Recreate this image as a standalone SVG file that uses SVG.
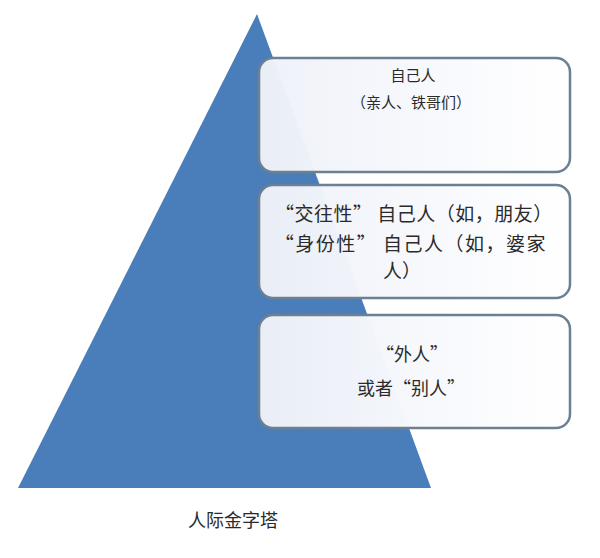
<svg xmlns="http://www.w3.org/2000/svg" width="600" height="558" viewBox="0 0 600 558">
<defs>
<linearGradient id="boxfill" x1="0" y1="0" x2="1" y2="0">
<stop offset="0" stop-color="#eef1f8" stop-opacity="0.97"/>
<stop offset="0.5" stop-color="#f6f8fc" stop-opacity="0.99"/>
<stop offset="1" stop-color="#ffffff" stop-opacity="1"/>
</linearGradient>
<style>
.box{fill:url(#boxfill);stroke:#6d7f92;stroke-width:2.5}
.t{font-family:"Noto Sans CJK SC","Liberation Sans",sans-serif;fill:#2a2a2a;text-anchor:middle}
</style>
</defs>
<rect width="600" height="558" fill="#ffffff"/>
<g id="pyramid">
<polygon points="257,14 431,488 18,488" fill="#4a7ebb"/>
</g>
<g id="box1">
<rect class="box" x="259" y="58" width="311" height="114" rx="14"/>
<text class="t" x="413" y="81" font-size="15">自己人</text>
<text class="t" x="411" y="108" font-size="15">（亲人、铁哥们）</text>
</g>
<g id="box2">
<rect class="box" x="259" y="185" width="311" height="113" rx="14"/>
<text class="t" x="414" y="221" font-size="19" letter-spacing="0.5">“交往性” 自己人（如，朋友）</text>
<text class="t" x="411" y="251" font-size="19" letter-spacing="1.5">“身份性” 自己人（如，婆家</text>
<text class="t" x="402" y="278" font-size="19">人）</text>
</g>
<g id="box3">
<rect class="box" x="259" y="315" width="311" height="113" rx="14"/>
<text class="t" x="412" y="361" font-size="18">“外人”</text>
<text class="t" x="411" y="395" font-size="18">或者“别人”</text>
</g>
<g id="caption">
<text class="t" x="233" y="527" font-size="18">人际金字塔</text>
</g>
<g id="connectors"/>
</svg>
